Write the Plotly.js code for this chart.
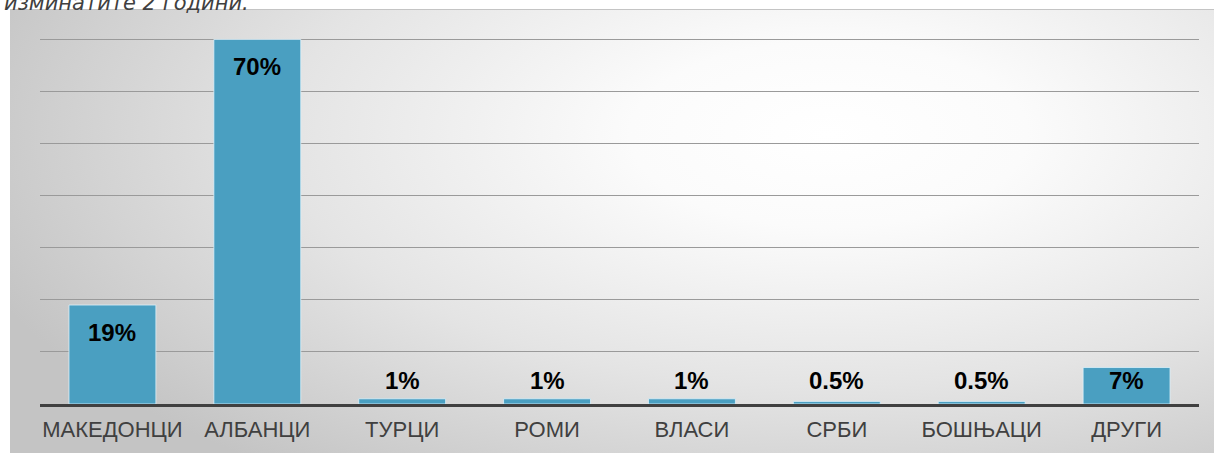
<!DOCTYPE html>
<html>
<head>
<meta charset="utf-8">
<script src="https://cdn.plot.ly/plotly-3.0.1.min.js"></script>
<style>
  html, body { margin:0; padding:0; width:1214px; height:453px; overflow:hidden; background:#ffffff; }
  #bg { position:absolute; left:10px; top:9px; width:1204px; height:444px;
        background: radial-gradient(ellipse 75% 95% at 68% 28%, #ffffff 0%, #fbfbfb 22%, #e4e4e4 60%, #c4c4c4 100%);
        border-top:1px solid #c4c4c4; }
  #chart { position:absolute; left:0; top:0; width:1214px; height:453px; }
</style>
</head>
<body>
<div id="bg"></div>
<div id="chart"></div>
<script>
const categories = ["МАКЕДОНЦИ", "АЛБАНЦИ", "ТУРЦИ", "РОМИ", "ВЛАСИ", "СРБИ", "БОШЊАЦИ", "ДРУГИ"];
const values = [19, 70, 1, 1, 1, 0.5, 0.5, 7];
const valueLabels = ["19%", "70%", "1%", "1%", "1%", "0.5%", "0.5%", "7%"];
const subtitleText = "изминатите 2 години.";

const annotations = values.map((v, i) => {
  const inside = v >= 10;
  return {
    x: categories[i], y: inside ? v : 0, xref: 'x', yref: 'y',
    text: '<b>' + valueLabels[i] + '</b>', showarrow: false,
    yanchor: 'middle', yshift: inside ? -27 : 24,
    font: { family: 'Liberation Sans, Arial, sans-serif', size: 24, color: '#000000' }
  };
});
annotations.push({
  xref: 'paper', yref: 'paper', x: 0, y: 1, xanchor: 'left', yanchor: 'middle',
  xshift: -38, yshift: 26, showarrow: false, text: '<i>' + subtitleText + '</i>',
  font: { family: 'DejaVu Sans, Verdana, sans-serif', size: 21, color: '#404040' }
});

const trace = {
  type: 'bar', x: categories, y: values, width: 0.6,
  marker: { color: '#4a9fc1', line: { color: 'rgba(220,240,250,0.8)', width: 1 } },
  hoverinfo: 'none'
};

const layout = {
  width: 1214, height: 453,
  margin: { l: 40, r: 15, t: 29, b: 49, pad: 0 },
  paper_bgcolor: 'rgba(0,0,0,0)', plot_bgcolor: 'rgba(0,0,0,0)',
  showlegend: false,
  bargap: 0.4,
  xaxis: {
    type: 'category', showgrid: false, zeroline: false,
    showline: true, linecolor: '#404040', linewidth: 3,
    ticks: '', ticklabelstandoff: 4,
    tickfont: { family: 'Liberation Sans, Arial, sans-serif', size: 22, color: '#404040' }
  },
  yaxis: {
    range: [0, 72], tickvals: [10, 20, 30, 40, 50, 60, 70], showticklabels: false, ticks: '',
    showgrid: true, gridcolor: '#9a9a9a', gridwidth: 1, zeroline: false
  },
  annotations: annotations
};

Plotly.newPlot('chart', [trace], layout, { displayModeBar: false, staticPlot: true });
</script>
</body>
</html>
